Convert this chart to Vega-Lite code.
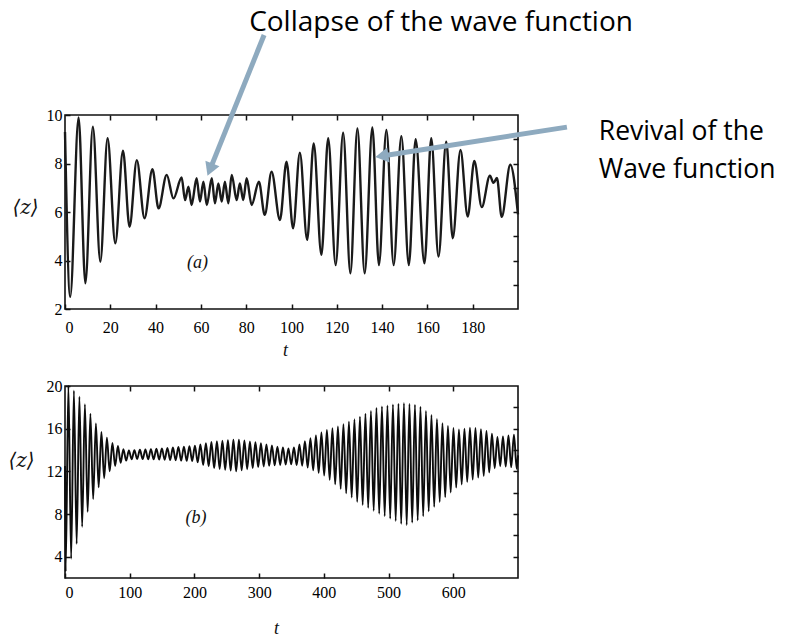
{
  "$schema": "https://vega.github.io/schema/vega-lite/v6.json",
  "background": "white",
  "padding": {"left": 7, "top": 8, "right": 0, "bottom": 0},
  "config": {
    "view": {"stroke": "#111", "strokeWidth": 1.6},
    "concat": {"spacing": 17},
    "axis": {
      "domain": false, "grid": false,
      "tickColor": "#111", "tickWidth": 1.5, "tickSize": -5,
      "labelFont": "Liberation Serif", "labelFontSize": 16, "labelColor": "#000",
      "titleFont": "Liberation Serif", "titleFontStyle": "italic", "titleFontWeight": "normal", "titleFontSize": 18, "titleColor": "#111"
    }
  },
  "datasets": {
    "a": [
      {"t":0,"z":9.3},{"t":2.3,"z":2.5},{"t":6.0,"z":9.9},{"t":9.0,"z":3.06},{"t":12.3,"z":9.52},{"t":15.6,"z":3.95},
      {"t":18.8,"z":9.04},{"t":22.2,"z":4.71},{"t":25.6,"z":8.53},{"t":28.5,"z":5.39},{"t":31.7,"z":8.14},{"t":35.1,"z":5.74},
      {"t":38.6,"z":7.76},{"t":41.3,"z":6.15},{"t":44.9,"z":7.53},{"t":47.9,"z":6.56},{"t":51.5,"z":7.42},{"t":53.0,"z":6.49},
      {"t":54.5,"z":7.04},{"t":55.9,"z":6.29},{"t":58.1,"z":7.39},{"t":59.6,"z":6.43},{"t":61.1,"z":7.25},{"t":62.6,"z":6.29},
      {"t":64.8,"z":7.39},{"t":66.2,"z":6.36},{"t":67.7,"z":7.18},{"t":69.2,"z":6.43},{"t":70.6,"z":7.25},{"t":72.1,"z":6.36},
      {"t":73.6,"z":7.53},{"t":75.8,"z":6.49},{"t":77.2,"z":7.18},{"t":78.7,"z":6.49},{"t":80.2,"z":7.39},{"t":82.4,"z":6.29},
      {"t":85.6,"z":7.25},{"t":88.2,"z":5.88},{"t":91.2,"z":7.66},{"t":94.9,"z":5.67},{"t":97.8,"z":8.07},{"t":100.7,"z":5.33},
      {"t":103.7,"z":8.45},{"t":106.9,"z":4.85},{"t":109.8,"z":8.83},{"t":113.2,"z":4.23},{"t":116.2,"z":9.04},{"t":119.5,"z":3.81},
      {"t":122.8,"z":9.27},{"t":126.0,"z":3.47},{"t":129.1,"z":9.45},{"t":132.3,"z":3.47},{"t":135.7,"z":9.49},{"t":138.6,"z":3.81},
      {"t":141.9,"z":9.38},{"t":145.1,"z":3.81},{"t":148.5,"z":9.13},{"t":151.8,"z":3.81},{"t":154.8,"z":9.0},{"t":158.7,"z":3.88},
      {"t":161.7,"z":9.04},{"t":164.9,"z":4.16},{"t":168.3,"z":8.9},{"t":171.2,"z":4.92},{"t":174.6,"z":8.56},{"t":177.8,"z":5.81},
      {"t":180.7,"z":8.1},{"t":184.0,"z":6.2},{"t":187.6,"z":7.5},{"t":189.2,"z":7.2},{"t":190.7,"z":7.4},{"t":192.8,"z":5.8},
      {"t":196.6,"z":7.95},{"t":200,"z":5.9}
    ],
    "b": [
      {"t":0,"z":12.5},{"t":1,"z":2.6},{"t":5.25,"z":20},{"t":9.5,"z":3.8},{"t":13.75,"z":19.55},{"t":18,"z":5.2},
      {"t":22.25,"z":19.0},{"t":26.5,"z":6.8},{"t":30.75,"z":18.3},{"t":35,"z":8.2},{"t":39.25,"z":17.4},{"t":43.5,"z":9.4},
      {"t":47.75,"z":16.5},{"t":52,"z":10.5},{"t":56.25,"z":15.7},{"t":60.5,"z":11.35},{"t":64.75,"z":15.15},{"t":69,"z":12.0},
      {"t":73.25,"z":14.65},{"t":77.5,"z":12.5},{"t":81.75,"z":14.37},{"t":86,"z":12.8},{"t":90.25,"z":14.08},{"t":94.5,"z":13.0},
      {"t":98.75,"z":13.95},{"t":103,"z":13.13},{"t":107.25,"z":13.98},{"t":111.5,"z":13.15},{"t":115.75,"z":14.02},{"t":120,"z":13.14},
      {"t":124.25,"z":14.05},{"t":128.5,"z":13.13},{"t":132.75,"z":14.08},{"t":137,"z":13.12},{"t":141.25,"z":14.12},{"t":145.5,"z":13.1},
      {"t":149.75,"z":14.15},{"t":154,"z":13.09},{"t":158.25,"z":14.19},{"t":162.5,"z":13.06},{"t":166.75,"z":14.23},{"t":171,"z":13.04},
      {"t":175.25,"z":14.28},{"t":179.5,"z":13.0},{"t":183.75,"z":14.32},{"t":188,"z":12.98},{"t":192.25,"z":14.36},{"t":196.5,"z":12.96},
      {"t":200.75,"z":14.41},{"t":205,"z":12.84},{"t":209.25,"z":14.53},{"t":213.5,"z":12.6},{"t":217.75,"z":14.64},{"t":222,"z":12.47},
      {"t":226.25,"z":14.75},{"t":230.5,"z":12.3},{"t":234.75,"z":14.83},{"t":239,"z":12.22},{"t":243.25,"z":14.88},{"t":247.5,"z":12.15},
      {"t":251.75,"z":14.92},{"t":256,"z":12.08},{"t":260.25,"z":14.97},{"t":264.5,"z":12.0},{"t":268.75,"z":14.97},{"t":273,"z":12.1},
      {"t":277.25,"z":14.89},{"t":281.5,"z":12.2},{"t":285.75,"z":14.81},{"t":290,"z":12.3},{"t":294.25,"z":14.73},{"t":298.5,"z":12.4},
      {"t":302.75,"z":14.64},{"t":307,"z":12.46},{"t":311.25,"z":14.53},{"t":315.5,"z":12.51},{"t":319.75,"z":14.43},{"t":324,"z":12.56},
      {"t":328.25,"z":14.32},{"t":332.5,"z":12.6},{"t":336.75,"z":14.23},{"t":341,"z":12.63},{"t":345.25,"z":14.15},{"t":349.5,"z":12.65},
      {"t":353.75,"z":14.23},{"t":358,"z":12.59},{"t":362.25,"z":14.53},{"t":366.5,"z":12.53},{"t":370.75,"z":14.82},{"t":375,"z":12.36},
      {"t":379.25,"z":15.1},{"t":383.5,"z":12.1},{"t":387.75,"z":15.37},{"t":392,"z":11.86},{"t":396.25,"z":15.65},{"t":400.5,"z":11.6},
      {"t":404.75,"z":15.88},{"t":409,"z":11.2},{"t":413.25,"z":16.05},{"t":417.5,"z":10.78},{"t":421.75,"z":16.2},{"t":426,"z":10.36},
      {"t":430.25,"z":16.43},{"t":434.5,"z":9.95},{"t":438.75,"z":16.66},{"t":443,"z":9.55},{"t":447.25,"z":16.88},{"t":451.5,"z":9.13},
      {"t":455.75,"z":17.12},{"t":460,"z":8.84},{"t":464.25,"z":17.4},{"t":468.5,"z":8.57},{"t":472.75,"z":17.67},{"t":477,"z":8.3},
      {"t":481.25,"z":17.94},{"t":485.5,"z":8.03},{"t":489.75,"z":18.08},{"t":494,"z":7.8},{"t":498.25,"z":18.18},{"t":502.5,"z":7.57},
      {"t":506.75,"z":18.27},{"t":511,"z":7.34},{"t":515.25,"z":18.34},{"t":519.5,"z":7.07},{"t":523.75,"z":18.4},{"t":528,"z":6.97},
      {"t":532.25,"z":18.33},{"t":536.5,"z":7.19},{"t":540.75,"z":18.24},{"t":545,"z":7.4},{"t":549.25,"z":18.06},{"t":553.5,"z":7.79},
      {"t":557.75,"z":17.67},{"t":562,"z":8.25},{"t":566.25,"z":17.29},{"t":570.5,"z":8.67},{"t":574.75,"z":16.9},{"t":579,"z":9.13},
      {"t":583.25,"z":16.52},{"t":587.5,"z":9.58},{"t":591.75,"z":16.26},{"t":596,"z":10.02},{"t":600.25,"z":16.06},{"t":604.5,"z":10.47},
      {"t":608.75,"z":15.92},{"t":613,"z":10.77},{"t":617.25,"z":16.0},{"t":621.5,"z":11.01},{"t":625.75,"z":16.08},{"t":630,"z":11.22},
      {"t":634.25,"z":16.06},{"t":638.5,"z":11.41},{"t":642.75,"z":15.96},{"t":647,"z":11.58},{"t":651.25,"z":15.79},{"t":655.5,"z":11.9},
      {"t":659.75,"z":15.52},{"t":664,"z":12.29},{"t":668.25,"z":15.23},{"t":672.5,"z":12.48},{"t":676.75,"z":15.28},{"t":681,"z":12.44},
      {"t":685.25,"z":15.36},{"t":689.5,"z":12.39},{"t":693.75,"z":15.44},{"t":698,"z":12.24},{"t":700,"z":13.5}
    ]
  },
  "vconcat": [
    {
      "width": 453, "height": 194,
      "resolve": {"axis": {"x": "independent", "y": "independent"}},
      "layer": [
        {
          "data": {"name": "a"},
          "mark": {"type": "line", "interpolate": "monotone", "color": "#1a1a1a", "strokeWidth": 2.4},
          "encoding": {
            "x": {"field": "t", "type": "quantitative", "scale": {"domain": [0, 200], "nice": false, "zero": false},
                  "axis": {"values": [0,20,40,60,80,100,120,140,160,180], "labelPadding": 15, "title": "t", "titleX": 220, "titleY": 41, "titleBaseline": "middle", "titleAlign": "center"}},
            "y": {"field": "z", "type": "quantitative", "scale": {"domain": [2, 10], "nice": false, "zero": false},
                  "axis": {"values": [2,4,6,8,10], "labelPadding": 8, "title": "⟨z⟩", "titleFont": "DejaVu Serif", "titleFontSize": 20, "titleAngle": 0, "titleAlign": "center", "titleBaseline": "middle", "titleX": -40, "titleY": 92}}
          }
        },
        {
          "data": {"name": "a"},
          "mark": {"type": "point", "opacity": 0},
          "encoding": {
            "x": {"field": "t", "type": "quantitative", "axis": {"orient": "top", "labels": false, "title": null, "values": [20,40,60,80,100,120,140,160,180]}},
            "y": {"field": "z", "type": "quantitative", "axis": {"orient": "right", "labels": false, "title": null, "values": [3,4,5,6,7,8,9]}}
          }
        },
        {
          "data": {"values": [{"t": 58.5, "z": 3.88, "label": "(a)"}]},
          "mark": {"type": "text", "font": "Liberation Serif", "fontStyle": "italic", "fontSize": 18, "color": "#111", "align": "center", "baseline": "middle"},
          "encoding": {
            "x": {"field": "t", "type": "quantitative", "axis": null},
            "y": {"field": "z", "type": "quantitative", "axis": null},
            "text": {"field": "label"}
          }
        },
        {
          "data": {"values": [
            {"t": 87.9, "z": 13.3, "t2": 64.0, "z2": 7.75},
            {"t": 221.6, "z": 9.5, "t2": 139.9, "z2": 8.31}
          ]},
          "mark": {"type": "rule", "color": "#8eaabf", "strokeWidth": 5},
          "encoding": {
            "x": {"field": "t", "type": "quantitative", "axis": null},
            "y": {"field": "z", "type": "quantitative", "axis": null},
            "x2": {"field": "t2"},
            "y2": {"field": "z2"}
          }
        },
        {
          "data": {"values": [{"t": 64.0, "z": 7.75}]},
          "mark": {"type": "point", "shape": "triangle-up", "filled": true, "color": "#8eaabf", "opacity": 1, "size": 230, "angle": 202},
          "encoding": {
            "x": {"field": "t", "type": "quantitative", "axis": null},
            "y": {"field": "z", "type": "quantitative", "axis": null}
          }
        },
        {
          "data": {"values": [{"t": 139.9, "z": 8.31}]},
          "mark": {"type": "point", "shape": "triangle-up", "filled": true, "color": "#8eaabf", "opacity": 1, "size": 230, "angle": 261},
          "encoding": {
            "x": {"field": "t", "type": "quantitative", "axis": null},
            "y": {"field": "z", "type": "quantitative", "axis": null}
          }
        },
        {
          "data": {"values": [
            {"t": 81.3, "z": 13.45, "label": "Collapse of the wave function"}
          ]},
          "mark": {"type": "text", "font": "Open Sans", "fontSize": 28, "color": "#000", "align": "left", "baseline": "alphabetic"},
          "encoding": {
            "x": {"field": "t", "type": "quantitative", "axis": null},
            "y": {"field": "z", "type": "quantitative", "axis": null},
            "text": {"field": "label"}
          }
        },
        {
          "data": {"values": [
            {"t": 235.7, "z": 8.97, "label": "Revival of the"},
            {"t": 235.7, "z": 7.4, "label": "Wave function"}
          ]},
          "mark": {"type": "text", "font": "Open Sans", "fontSize": 26.5, "color": "#000", "align": "left", "baseline": "alphabetic"},
          "encoding": {
            "x": {"field": "t", "type": "quantitative", "axis": null},
            "y": {"field": "z", "type": "quantitative", "axis": null},
            "text": {"field": "label"}
          }
        }
      ]
    },
    {
      "width": 453, "height": 192,
      "resolve": {"axis": {"x": "independent", "y": "independent"}},
      "layer": [
        {
          "data": {"name": "b"},
          "mark": {"type": "line", "interpolate": "monotone", "color": "#0d0d0d", "strokeWidth": 1.9},
          "encoding": {
            "x": {"field": "t", "type": "quantitative", "scale": {"domain": [0, 700], "nice": false, "zero": false},
                  "axis": {"values": [0,100,200,300,400,500,600], "labelPadding": 11, "title": "t", "titleX": 211, "titleY": 50, "titleBaseline": "middle", "titleAlign": "center"}},
            "y": {"field": "z", "type": "quantitative", "scale": {"domain": [2, 20], "nice": false, "zero": false},
                  "axis": {"values": [4,8,12,16,20], "labelPadding": 8, "title": "⟨z⟩", "titleFont": "DejaVu Serif", "titleFontSize": 20, "titleAngle": 0, "titleAlign": "center", "titleBaseline": "middle", "titleX": -44, "titleY": 74}}
          }
        },
        {
          "data": {"name": "b"},
          "mark": {"type": "point", "opacity": 0},
          "encoding": {
            "x": {"field": "t", "type": "quantitative", "axis": {"orient": "top", "labels": false, "title": null, "values": [100,200,300,400,500,600]}},
            "y": {"field": "z", "type": "quantitative", "axis": {"orient": "right", "labels": false, "title": null, "values": [4,6,8,10,12,14,16,18]}}
          }
        },
        {
          "data": {"values": [{"t": 202.5, "z": 7.63, "label": "(b)"}]},
          "mark": {"type": "text", "font": "Liberation Serif", "fontStyle": "italic", "fontSize": 18, "color": "#111", "align": "center", "baseline": "middle"},
          "encoding": {
            "x": {"field": "t", "type": "quantitative", "axis": null},
            "y": {"field": "z", "type": "quantitative", "axis": null},
            "text": {"field": "label"}
          }
        }
      ]
    }
  ]
}
